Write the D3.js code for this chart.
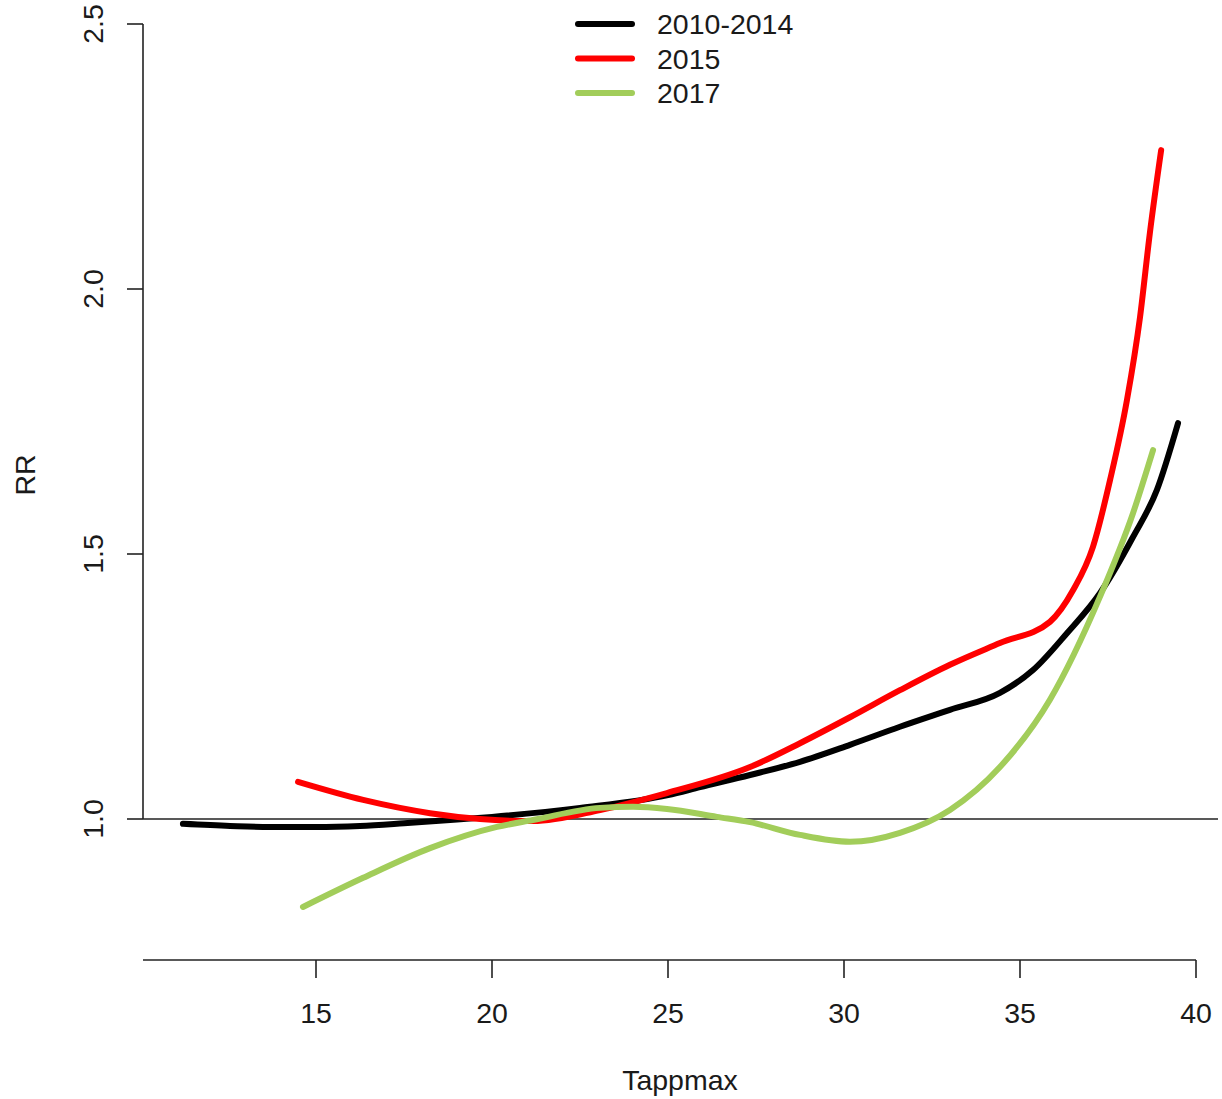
<!DOCTYPE html>
<html>
<head>
<meta charset="utf-8">
<script src="https://cdn.jsdelivr.net/npm/d3@7"></script>
<style>
  body { margin: 0; background: #fff; }
  text { font-family: "Liberation Sans", Arial, sans-serif; fill: #1a1a1a; }
</style>
</head>
<body>
<div id="chart"></div>
<script>

// curves: [Tappmax, RR]
const black2010 = [
  [11.22, 0.991], [12.56, 0.987], [13.69, 0.985], [15.0, 0.985], [16.25, 0.987],
  [17.5, 0.992], [18.81, 0.998], [20.0, 1.004], [22.5, 1.021], [25.0, 1.045],
  [25.91, 1.060], [27.33, 1.083], [28.75, 1.108], [30.17, 1.140], [31.59, 1.174],
  [33.01, 1.206], [34.43, 1.238], [35.37, 1.281], [36.34, 1.351], [37.27, 1.426],
  [38.21, 1.532], [38.89, 1.621], [39.49, 1.747]
];
const red2015 = [
  [14.49, 1.070], [16.34, 1.036], [18.24, 1.011], [19.66, 1.000], [21.16, 0.996],
  [23.07, 1.017], [24.97, 1.049], [27.33, 1.098], [28.75, 1.143], [30.17, 1.192],
  [31.59, 1.243], [33.01, 1.291], [34.43, 1.332], [35.85, 1.372], [36.51, 1.432],
  [37.07, 1.513], [37.56, 1.640], [38.04, 1.791], [38.41, 1.947], [38.69, 2.106],
  [39.01, 2.262]
];
const green2017 = [
  [14.63, 0.834], [16.34, 0.889], [18.24, 0.945], [20.14, 0.985], [21.16, 0.998],
  [23.07, 1.021], [24.01, 1.023], [24.97, 1.019], [26.39, 1.004], [27.33, 0.994],
  [28.75, 0.970], [30.17, 0.957], [31.59, 0.974], [33.01, 1.017], [34.43, 1.098],
  [35.85, 1.225], [37.27, 1.419], [38.21, 1.577], [38.78, 1.696]
];

const seriesNames = ["2010-2014", "2015", "2017"];
const seriesColors = ["#000000", "#ff0000", "#a2cd5a"];
const xTicks = [15, 20, 25, 30, 35, 40];
const yTicks = [1.0, 1.5, 2.0, 2.5];

const width = 1222, height = 1099;
const fontSize = "28.5px";

const svg = d3.select("#chart").append("svg")
  .attr("width", width)
  .attr("height", height);

const x = d3.scaleLinear().domain([15, 40]).range([316, 1196]);
const y = d3.scaleLinear().domain([1.0, 2.5]).range([819, 24]);

const plotLeft = 143;
const plotRight = 1218;
const xAxisY = 960;

// reference line at RR = 1
svg.append("line")
  .attr("x1", plotLeft).attr("x2", plotRight)
  .attr("y1", y(1)).attr("y2", y(1))
  .attr("stroke", "#222").attr("stroke-width", 1.6);

// y axis
svg.append("line")
  .attr("x1", plotLeft).attr("x2", plotLeft)
  .attr("y1", y(1.0)).attr("y2", y(2.5))
  .attr("stroke", "#222").attr("stroke-width", 1.6);

svg.selectAll(".ytick")
  .data(yTicks)
  .enter().append("line")
  .attr("class", "ytick")
  .attr("x1", plotLeft - 16).attr("x2", plotLeft)
  .attr("y1", d => y(d)).attr("y2", d => y(d))
  .attr("stroke", "#222").attr("stroke-width", 1.6);

svg.selectAll(".ylab")
  .data(yTicks)
  .enter().append("text")
  .attr("class", "ylab")
  .attr("transform", d => "translate(103," + y(d) + ") rotate(-90)")
  .attr("text-anchor", "middle")
  .style("font-size", fontSize)
  .text(d => d.toFixed(1));

// x axis
svg.append("line")
  .attr("x1", plotLeft).attr("x2", x(40))
  .attr("y1", xAxisY).attr("y2", xAxisY)
  .attr("stroke", "#222").attr("stroke-width", 1.6);

svg.selectAll(".xtick")
  .data(xTicks)
  .enter().append("line")
  .attr("class", "xtick")
  .attr("x1", d => x(d)).attr("x2", d => x(d))
  .attr("y1", xAxisY).attr("y2", xAxisY + 18)
  .attr("stroke", "#222").attr("stroke-width", 1.6);

svg.selectAll(".xlab")
  .data(xTicks)
  .enter().append("text")
  .attr("class", "xlab")
  .attr("x", d => x(d))
  .attr("y", 1023)
  .attr("text-anchor", "middle")
  .style("font-size", fontSize)
  .text(d => d);

// axis titles
svg.append("text")
  .attr("x", 680).attr("y", 1090)
  .attr("text-anchor", "middle")
  .style("font-size", fontSize)
  .text("Tappmax");

svg.append("text")
  .attr("transform", "translate(35,475) rotate(-90)")
  .attr("text-anchor", "middle")
  .style("font-size", fontSize)
  .text("RR");

// curves
const line = d3.line()
  .x(d => x(d[0]))
  .y(d => y(d[1]))
  .curve(d3.curveMonotoneX);

const allSeries = [black2010, red2015, green2017];

svg.selectAll(".curve")
  .data(allSeries)
  .enter().append("path")
  .attr("class", "curve")
  .attr("d", line)
  .attr("fill", "none")
  .attr("stroke", (d, i) => seriesColors[i])
  .attr("stroke-width", 6)
  .attr("stroke-linecap", "round")
  .attr("stroke-linejoin", "round");

// legend
const legend = svg.append("g");
seriesNames.forEach(function (name, i) {
  const ly = 24 + i * 34.5;
  legend.append("line")
    .attr("x1", 578).attr("x2", 632)
    .attr("y1", ly).attr("y2", ly)
    .attr("stroke", seriesColors[i])
    .attr("stroke-width", 6)
    .attr("stroke-linecap", "round");
  legend.append("text")
    .attr("x", 657).attr("y", ly + 10)
    .style("font-size", fontSize)
    .text(name);
});

</script>
</body>
</html>
